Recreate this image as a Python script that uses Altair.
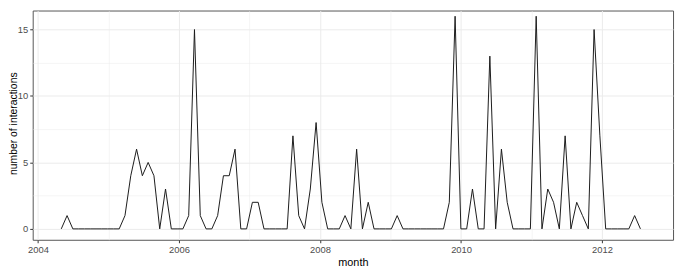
import altair as alt
import pandas as pd

# Monthly (30-day) bins starting May 2004
start_month = "2004-05-01"
step_days = 30
interactions = [
    0, 1, 0, 0, 0, 0, 0, 0, 0, 0,
    0, 1, 4, 6, 4, 5, 4, 0, 3, 0,
    0, 0, 1, 15, 1, 0, 0, 1, 4, 4,
    6, 0, 0, 2, 2, 0, 0, 0, 0, 0,
    7, 1, 0, 3, 8, 2, 0, 0, 0, 1,
    0, 6, 0, 2, 0, 0, 0, 0, 1, 0,
    0, 0, 0, 0, 0, 0, 0, 2, 16, 0,
    0, 3, 0, 0, 13, 0, 6, 2, 0, 0,
    0, 0, 16, 0, 3, 2, 0, 7, 0, 2,
    1, 0, 15, 7, 0, 0, 0, 0, 0, 1,
    0,
]
year_ticks = list(range(2004, 2013))
y_ticks = [0, 2.5, 5, 7.5, 10, 12.5, 15]

months = pd.date_range(start_month, periods=len(interactions), freq=f"{step_days}D")
df = pd.DataFrame({
    "month": months.strftime("%Y-%m-%dT00:00:00"),
    "n": interactions,
})

x_axis = alt.Axis(
    title="month",
    values=[alt.DateTime(year=y, month=1, date=1) for y in year_ticks],
    labelExpr="year(datum.value) % 2 === 0 ? timeFormat(datum.value, '%Y') : ''",
    gridWidth={"condition": {"test": "year(datum.value) % 2 === 1", "value": 0.5}, "value": 1},
    tickColor={"condition": {"test": "year(datum.value) % 2 === 1", "value": "transparent"}, "value": "#333333"},
    titleX=324, titleY=23, titleBaseline="middle", titleAlign="center",
    labelPadding=2,
)
y_axis = alt.Axis(
    title="number of interactions",
    values=y_ticks,
    labelExpr="datum.value % 5 === 0 ? datum.label : ''",
    gridWidth={"condition": {"test": "datum.value % 5 !== 0", "value": 0.5}, "value": 1},
    tickColor={"condition": {"test": "datum.value % 5 !== 0", "value": "transparent"}, "value": "#333333"},
    titleX=-19, titleY=114, titleBaseline="middle", titleAlign="center", titleAngle=270,
    titleFontSize=10.5,
    labelPadding=2,
)

chart = alt.Chart(df).mark_line(color="#1a1a1a", strokeWidth=1).encode(
    x=alt.X("month:T", axis=x_axis,
            scale=alt.Scale(domain=[alt.DateTime(year=2003, month=12, date=5),
                                    alt.DateTime(year=2013, month=1, date=3)], nice=False)),
    y=alt.Y("n:Q", axis=y_axis, scale=alt.Scale(domain=[-0.82, 16.43], nice=False, zero=False)),
).properties(
    width=648, height=232,
    autosize=alt.AutoSizeParams(type="none"),
    padding={"left": 25, "top": 1, "right": 4, "bottom": 27},
).configure_view(
    stroke="#555555", strokeWidth=1,
).configure_axis(
    domain=False,
    grid=True,
    gridColor="#EBEBEB",
    tickSize=3,
    tickWidth=1,
    labelColor="#4D4D4D",
    labelFontSize=9.5,
    labelFont="Liberation Sans",
    titleFont="Liberation Sans",
    titleFontSize=11,
    titleFontWeight="normal",
    titleColor="#000000",
    titlePadding=0,
)

chart.save("out.html", embed_options={"renderer": "svg", "actions": False})
